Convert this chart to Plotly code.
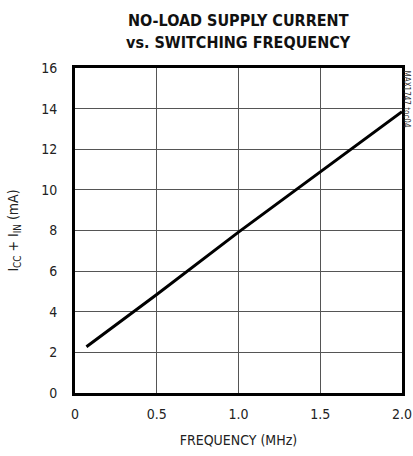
import plotly.graph_objects as go

freq_mhz = [0.07, 0.5, 1.0, 1.5, 2.0]
current_ma = [2.28, 4.85, 7.92, 10.88, 13.85]
x_ticks = [0, 0.5, 1.0, 1.5, 2.0]
x_tick_labels = ["0", "0.5", "1.0", "1.5", "2.0"]
y_ticks = [0, 2, 4, 6, 8, 10, 12, 14, 16]

FONT = "DejaVu Sans Condensed, Liberation Sans Narrow, Arial Narrow, sans-serif"

fig = go.Figure()
fig.add_trace(go.Scatter(x=freq_mhz, y=current_ma, mode="lines",
                         line=dict(color="black", width=3), showlegend=False))

fig.update_layout(
    width=413, height=456,
    margin=dict(l=75, r=11, t=68, b=63, autoexpand=False),
    paper_bgcolor="white", plot_bgcolor="white",
    font=dict(family=FONT, size=14, color="#222"),
    xaxis=dict(range=[0, 2.0], tickvals=x_ticks, ticktext=x_tick_labels,
               showgrid=True, gridcolor="#555", gridwidth=1,
               showline=True, linecolor="black", linewidth=3, mirror=True,
               ticks="outside", ticklen=6, tickcolor="white", zeroline=False,
               title=dict(text="FREQUENCY (MHz)", standoff=15,
                          font=dict(family=FONT, size=14))),
    yaxis=dict(range=[0, 16], tickvals=y_ticks,
               showgrid=True, gridcolor="#555", gridwidth=1,
               showline=True, linecolor="black", linewidth=3, mirror=True,
               ticks="outside", ticklen=12, tickcolor="white", zeroline=False,
               title=dict(text="I<sub>CC</sub> + I<sub>IN</sub> (mA)", standoff=20,
                          font=dict(family=FONT, size=14))),
)

fig.add_annotation(text="<b>NO-LOAD SUPPLY CURRENT</b>", xref="paper", yref="paper",
                   x=0.5, y=1.0, yshift=48, yanchor="middle", showarrow=False,
                   font=dict(family=FONT, size=16, color="#111"))
fig.add_annotation(text="<b>vs. SWITCHING FREQUENCY</b>", xref="paper", yref="paper",
                   x=0.5, y=1.0, yshift=26, yanchor="middle", showarrow=False,
                   font=dict(family=FONT, size=16, color="#111"))
fig.add_annotation(text="MAX1747 toc04", textangle=90, xref="paper", yref="paper",
                   x=1.0, xanchor="center", xshift=4, y=1.0, yanchor="top",
                   showarrow=False, font=dict(family=FONT, size=8, color="#333"))

fig.write_html("out.html", config={"displayModeBar": False},
               post_script="document.body.style.margin='0px';")
